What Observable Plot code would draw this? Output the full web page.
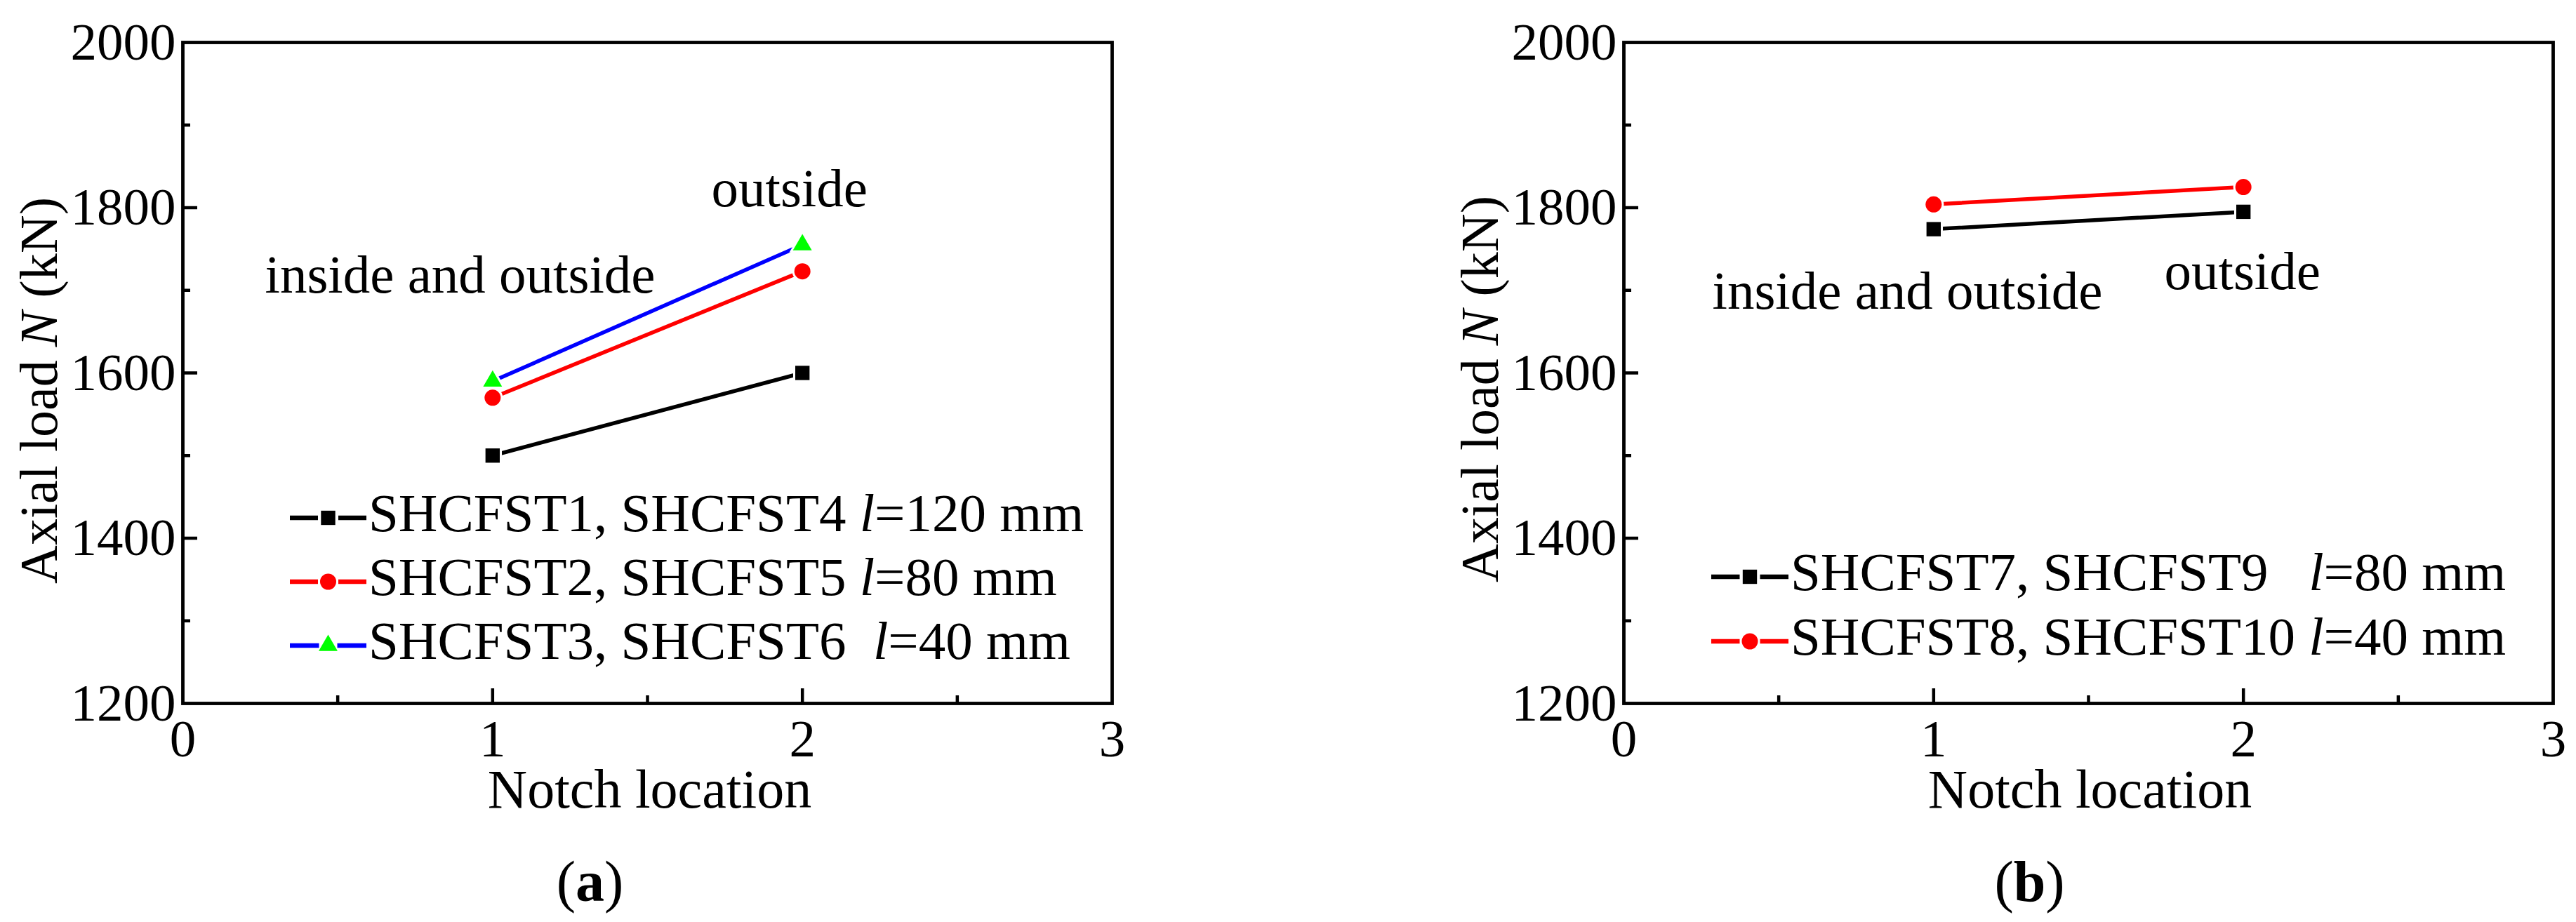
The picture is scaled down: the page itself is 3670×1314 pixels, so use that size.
<!DOCTYPE html>
<html><head><meta charset="utf-8">
<script src="https://cdn.jsdelivr.net/npm/d3@7"></script>
<script src="https://cdn.jsdelivr.net/npm/@observablehq/plot@0.6"></script>
<style>
html,body{margin:0;padding:0;background:#fff;}
#wrap{display:flex;width:3670px;height:1314px;background:#fff;}
svg text{white-space:pre;}
</style></head><body><div id="wrap"></div>
<script>
// ---------- data ----------
const notchLocation = [1, 2];
const namesA = ["SHCFST1, SHCFST4", "SHCFST2, SHCFST5", "SHCFST3, SHCFST6"];
const lengthsA = [120, 80, 40];
const loadA1 = [1500, 1600];
const loadA2 = [1570, 1723];
const loadA3 = [1590, 1755];
const namesB = ["SHCFST7, SHCFST9", "SHCFST8, SHCFST10"];
const lengthsB = [80, 40];
const loadB1 = [1774, 1795];
const loadB2 = [1804, 1825];
const annotations = ["inside and outside", "outside"];
const xTicks = [0, 1, 2, 3];
const xMinorTicks = [0.5, 1.5, 2.5];
const yTicks = [1200, 1400, 1600, 1800, 2000];
const yMinorTicks = [1300, 1500, 1700, 1900];
const xLabel = "Notch location";
const yLabelParts = ["Axial load ", "N", " (kN)"];
const panelLetters = ["a", "b"];

// ---------- styles ----------
const FONT = "Liberation Serif";
const styleBySeries = [
  {stroke: "#000000", fill: "#000000", symbol: "square", r: 11.5},
  {stroke: "#ff0000", fill: "#ff0000", symbol: "circle", r: 11.5},
  {stroke: "#0000ff", fill: "#00ff00", symbol: "triangle", r: 10}
];
const stylesB = [styleBySeries[0], styleBySeries[1]];
const W = 1835, H = 1314;

function richify(svg, fullText, parts) {
  d3.select(svg).selectAll("text").filter(function() { return this.textContent === fullText; }).each(function() {
    const t = d3.select(this);
    t.text(null);
    parts.forEach(p => {
      const ts = t.append("tspan").text(p.text);
      if (p.italic) ts.attr("font-style", "italic");
      if (p.bold) ts.attr("font-weight", "bold");
    });
  });
}

function panel(cfg) {
  const {mL, mR, mT, mB, names, lengths, pads, loads, styles, ann, legend, letter, capDx, xtDx, ytDx, ytDy} = cfg;
  const FW = W - mL - mR, FH = H - mT - mB;
  const series = names.map((n, i) => notchLocation.map((x, j) => ({name: n, x, y: loads[i][j]})));
  const yLabel = yLabelParts.join("");
  const caption = `(${letter})`;
  const marks = [
    Plot.ruleY(yTicks.slice(1, -1), {y: d => d, insetRight: FW - 21, stroke: "black", strokeWidth: 4.5}),
    Plot.ruleY(yMinorTicks, {y: d => d, insetRight: FW - 11, stroke: "black", strokeWidth: 4.5}),
    Plot.ruleX(xTicks.slice(1, -1), {x: d => d, insetTop: FH - 21, stroke: "black", strokeWidth: 4.5}),
    Plot.ruleX(xMinorTicks, {x: d => d, insetTop: FH - 11, stroke: "black", strokeWidth: 4.5}),
    Plot.frame({stroke: "black", strokeWidth: 4.8}),
    Plot.axisY({ticks: yTicks, tickSize: 0, tickPadding: 10, tickFormat: d => String(d), label: null, fontSize: 75}),
    Plot.axisX({ticks: xTicks, tickSize: 0, tickPadding: 22, tickFormat: d => String(d), label: null, fontSize: 75}),
    ...series.map((s, i) => Plot.line(s, {x: "x", y: "y", stroke: styles[i].stroke, strokeWidth: 5.5})),
    ...series.map((s, i) => Plot.dot(s, {x: "x", y: "y", symbol: styles[i].symbol, fill: styles[i].fill, stroke: "white", strokeWidth: 6, paintOrder: "stroke", r: styles[i].r})),
    ...ann.map((a, i) => Plot.text([annotations[i]], {frameAnchor: "top-left", dx: a.x - mL, dy: a.base - mT, textAnchor: "start", lineAnchor: "bottom", fontSize: 77, fill: "black"})),
    Plot.text([xLabel], {frameAnchor: "bottom", dx: xtDx, dy: 148, lineAnchor: "bottom", fontSize: 78, fill: "black"}),
    Plot.text([yLabel], {frameAnchor: "left", dx: ytDx, dy: ytDy, rotate: -90, textAnchor: "middle", lineAnchor: "middle", fontSize: 76, fill: "black"}),
    Plot.text([caption], {frameAnchor: "bottom", dx: capDx, dy: 281, lineAnchor: "bottom", fontSize: 82, fill: "black"})
  ];
  const svg = Plot.plot({
    width: W, height: H,
    marginLeft: mL, marginRight: mR, marginTop: mT, marginBottom: mB,
    x: {domain: [0, 3]},
    y: {domain: [1200, 2000]},
    style: {fontFamily: FONT, fontSize: "75px", background: "white", color: "black", overflow: "visible"},
    marks
  });
  richify(svg, yLabel, [{text: yLabelParts[0]}, {text: yLabelParts[1], italic: true}, {text: yLabelParts[2]}]);
  richify(svg, caption, [{text: "("}, {text: letter, bold: true}, {text: ")"}]);
  // legend
  const g = d3.select(svg).append("g").attr("class", "legend");
  names.forEach((n, i) => {
    const st = styles[i];
    const cy = legend.cy0 + i * legend.gap;
    const cx = (legend.x0 + legend.x1) / 2;
    const gap = st.r + 3;
    g.append("line").attr("x1", legend.x0).attr("x2", cx - gap).attr("y1", cy).attr("y2", cy)
      .attr("stroke", st.stroke).attr("stroke-width", 6.5);
    g.append("line").attr("x1", cx + gap).attr("x2", legend.x1).attr("y1", cy).attr("y2", cy)
      .attr("stroke", st.stroke).attr("stroke-width", 6.5);
    const sym = {square: d3.symbolSquare, circle: d3.symbolCircle, triangle: d3.symbolTriangle}[st.symbol];
    g.append("path").attr("transform", `translate(${cx},${cy})`)
      .attr("d", d3.symbol(sym, Math.PI * st.r * st.r)()).attr("fill", st.fill);
    const t = g.append("text").attr("x", legend.tx).attr("y", cy + 19)
      .attr("text-anchor", "start")
      .attr("font-family", FONT).attr("font-size", 77).attr("fill", "black");
    t.append("tspan").text(n + pads[i]);
    t.append("tspan").attr("font-style", "italic").text("l");
    t.append("tspan").text(`=${lengths[i]} mm`);
  });
  return svg;
}

const wrap = document.getElementById("wrap");
wrap.appendChild(panel({
  mL: 260, mR: 251, mT: 60, mB: 312,
  names: namesA, lengths: lengthsA, pads: [" ", " ", "  "],
  loads: [loadA1, loadA2, loadA3], styles: styleBySeries,
  ann: [{x: 377, base: 416}, {x: 1013, base: 293}],
  legend: {x0: 413, x1: 522, tx: 525, cy0: 738, gap: 91},
  letter: panelLetters[0], capDx: -82, xtDx: 3, ytDx: -204, ytDy: 25
}));
wrap.appendChild(panel({
  mL: 478, mR: 33, mT: 60, mB: 312,
  names: namesB, lengths: lengthsB, pads: ["   ", " "],
  loads: [loadB1, loadB2], styles: stylesB,
  ann: [{x: 604, base: 439}, {x: 1248, base: 411}],
  legend: {x0: 603, x1: 713, tx: 716, cy0: 822, gap: 92},
  letter: panelLetters[1], capDx: -84, xtDx: 2, ytDx: -204, ytDy: 23
}));
</script></body></html>
